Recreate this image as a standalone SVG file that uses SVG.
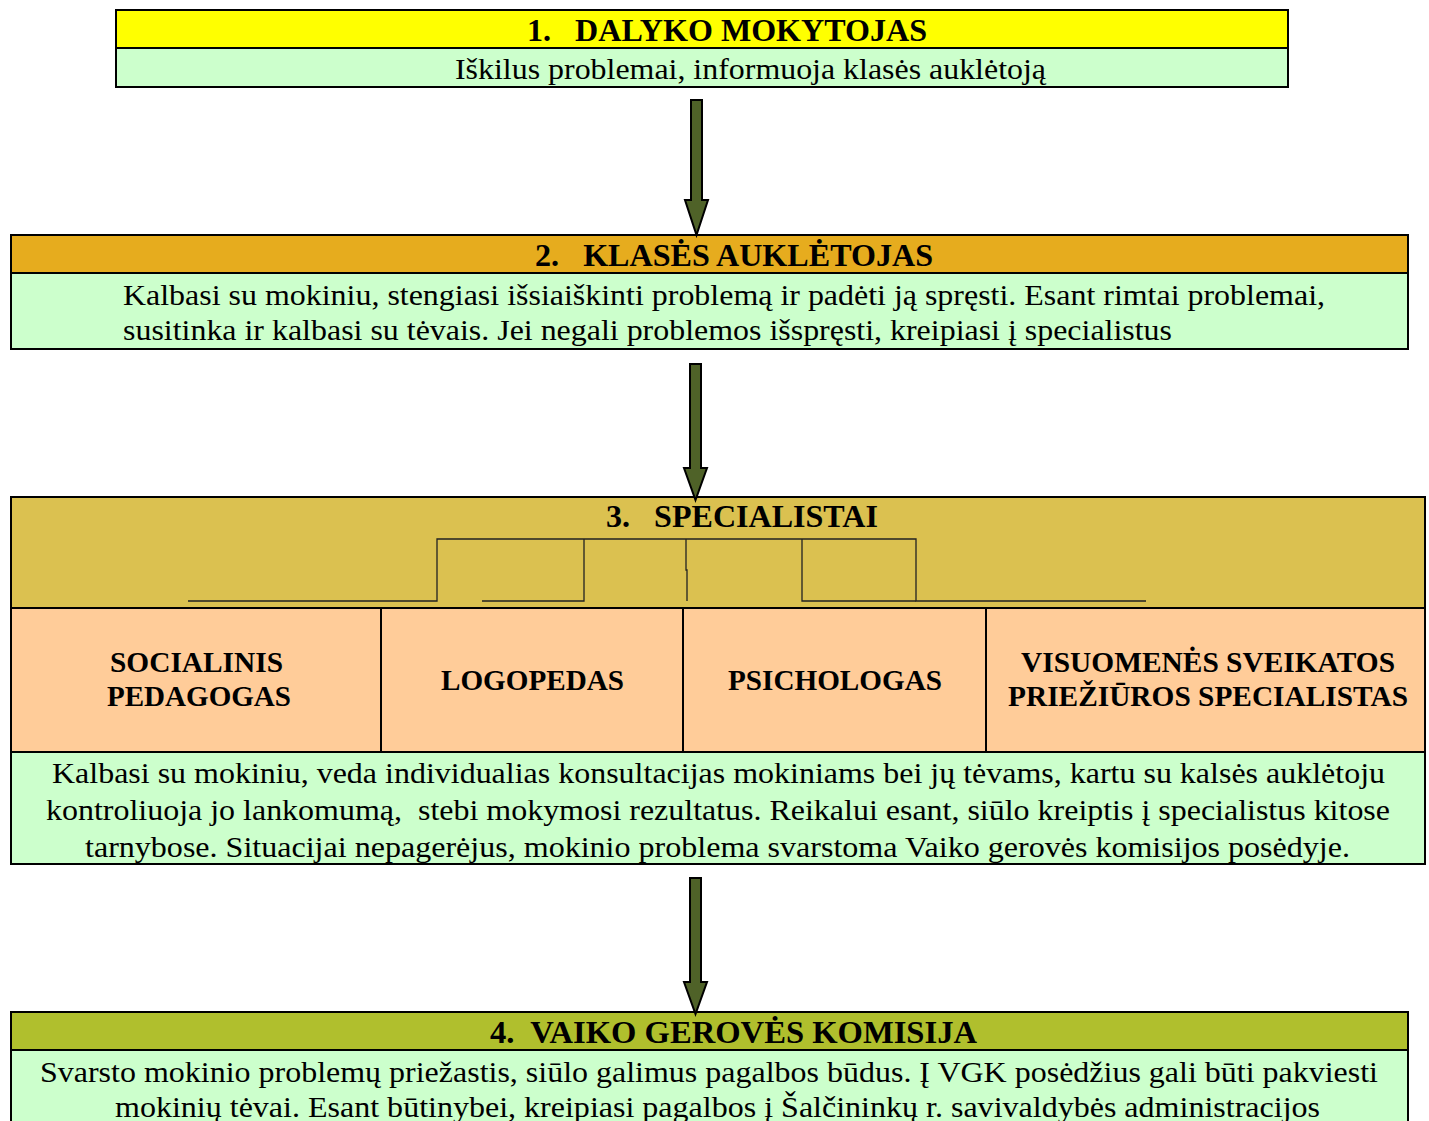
<svg xmlns="http://www.w3.org/2000/svg" width="1429" height="1121" viewBox="0 0 1429 1121">
<style>
.box{stroke:#000;stroke-width:2}
.h{font-family:"Liberation Serif",serif;font-weight:bold;font-size:31px;fill:#000}
.t{font-family:"Liberation Serif",serif;font-size:29px;fill:#000}
.b{font-family:"Liberation Serif",serif;font-weight:bold;font-size:29px;fill:#000}
.ln{fill:none;stroke:#222;stroke-width:1.3}
.arr{fill:#4F6228;stroke:#000;stroke-width:2}
</style>
<rect width="1429" height="1121" fill="#fff"/>
<g id="node1">
<rect class="box" x="116" y="10" width="1172" height="38" fill="#FFFF00"/>
<rect class="box" x="116" y="48" width="1172" height="39" fill="#CCFFCC"/>
<text class="h" x="527" y="41" textLength="400" lengthAdjust="spacingAndGlyphs" xml:space="preserve">1.   DALYKO MOKYTOJAS</text>
<text class="t" x="455" y="79" textLength="591" lengthAdjust="spacingAndGlyphs">Iškilus problemai, informuoja klasės auklėtoją</text>
</g>
<g id="node2">
<rect class="box" x="11" y="235" width="1397" height="38" fill="#E6AC1E"/>
<rect class="box" x="11" y="273" width="1397" height="76" fill="#CCFFCC"/>
<text class="h" x="535" y="266" textLength="398" lengthAdjust="spacingAndGlyphs" xml:space="preserve">2.   KLASĖS AUKLĖTOJAS</text>
<text class="t" x="123" y="305" textLength="1202" lengthAdjust="spacingAndGlyphs">Kalbasi su mokiniu, stengiasi išsiaiškinti problemą ir padėti ją spręsti. Esant rimtai problemai,</text>
<text class="t" x="123" y="340" textLength="1049" lengthAdjust="spacingAndGlyphs">susitinka ir kalbasi su tėvais. Jei negali problemos išspręsti, kreipiasi į specialistus</text>
</g>
<g id="node3">
<rect class="box" x="11" y="497" width="1414" height="111" fill="#DBC150"/>
<text class="h" x="606" y="527" textLength="272" lengthAdjust="spacingAndGlyphs" xml:space="preserve">3.   SPECIALISTAI</text>
<g id="specialist-lines">
<polyline class="ln" points="188,601 437,601 437,539 916,539 916,601 1146,601"/>
<polyline class="ln" points="482,601 584,601 584,539"/>
<polyline class="ln" points="686,539 686,570 687,570 687,601"/>
<polyline class="ln" points="802,539 802,601 916,601"/>
</g>
</g>
<g id="node3a">
<rect class="box" x="11" y="608" width="370" height="144" fill="#FFCC99"/>
<text class="b" x="110" y="672" textLength="173" lengthAdjust="spacingAndGlyphs">SOCIALINIS</text>
<text class="b" x="107" y="706" textLength="184" lengthAdjust="spacingAndGlyphs">PEDAGOGAS</text>
</g>
<g id="node3b">
<rect class="box" x="381" y="608" width="302" height="144" fill="#FFCC99"/>
<text class="b" x="441" y="690" textLength="183" lengthAdjust="spacingAndGlyphs">LOGOPEDAS</text>
</g>
<g id="node3c">
<rect class="box" x="683" y="608" width="303" height="144" fill="#FFCC99"/>
<text class="b" x="728" y="690" textLength="214" lengthAdjust="spacingAndGlyphs">PSICHOLOGAS</text>
</g>
<g id="node3d">
<rect class="box" x="986" y="608" width="439" height="144" fill="#FFCC99"/>
<text class="b" x="1021" y="672" textLength="374" lengthAdjust="spacingAndGlyphs">VISUOMENĖS SVEIKATOS</text>
<text class="b" x="1008" y="706" textLength="400" lengthAdjust="spacingAndGlyphs">PRIEŽIŪROS SPECIALISTAS</text>
</g>
<g id="node3e">
<rect class="box" x="11" y="752" width="1414" height="112" fill="#CCFFCC"/>
<text class="t" x="52" y="783" textLength="1333" lengthAdjust="spacingAndGlyphs">Kalbasi su mokiniu, veda individualias konsultacijas mokiniams bei jų tėvams, kartu su kalsės auklėtoju</text>
<text class="t" x="46" y="820" textLength="1344" lengthAdjust="spacingAndGlyphs" xml:space="preserve">kontroliuoja jo lankomumą,  stebi mokymosi rezultatus. Reikalui esant, siūlo kreiptis į specialistus kitose</text>
<text class="t" x="85" y="857" textLength="1265" lengthAdjust="spacingAndGlyphs">tarnybose. Situacijai nepagerėjus, mokinio problema svarstoma Vaiko gerovės komisijos posėdyje.</text>
</g>
<g id="node4">
<rect class="box" x="11" y="1012" width="1397" height="38" fill="#B0BF2D"/>
<rect class="box" x="11" y="1050" width="1397" height="80" fill="#CCFFCC"/>
<text class="h" x="490" y="1043" textLength="487" lengthAdjust="spacingAndGlyphs" xml:space="preserve">4.  VAIKO GEROVĖS KOMISIJA</text>
<text class="t" x="40" y="1082" textLength="1338" lengthAdjust="spacingAndGlyphs">Svarsto mokinio problemų priežastis, siūlo galimus pagalbos būdus. Į VGK posėdžius gali būti pakviesti</text>
<text class="t" x="115" y="1117" textLength="1205" lengthAdjust="spacingAndGlyphs">mokinių tėvai. Esant būtinybei, kreipiasi pagalbos į Šalčininkų r. savivaldybės administracijos</text>
</g>
<g id="connectors">
<polygon class="arr" points="691,100 702,100 702,200 708,200 696.5,235 685,200 691,200"/>
<polygon class="arr" points="690,364 701,364 701,468 707,468 695.5,500 684,468 690,468"/>
<polygon class="arr" points="690,878 701,878 701,982 707,982 695.5,1014 684,982 690,982"/>
</g>
</svg>
